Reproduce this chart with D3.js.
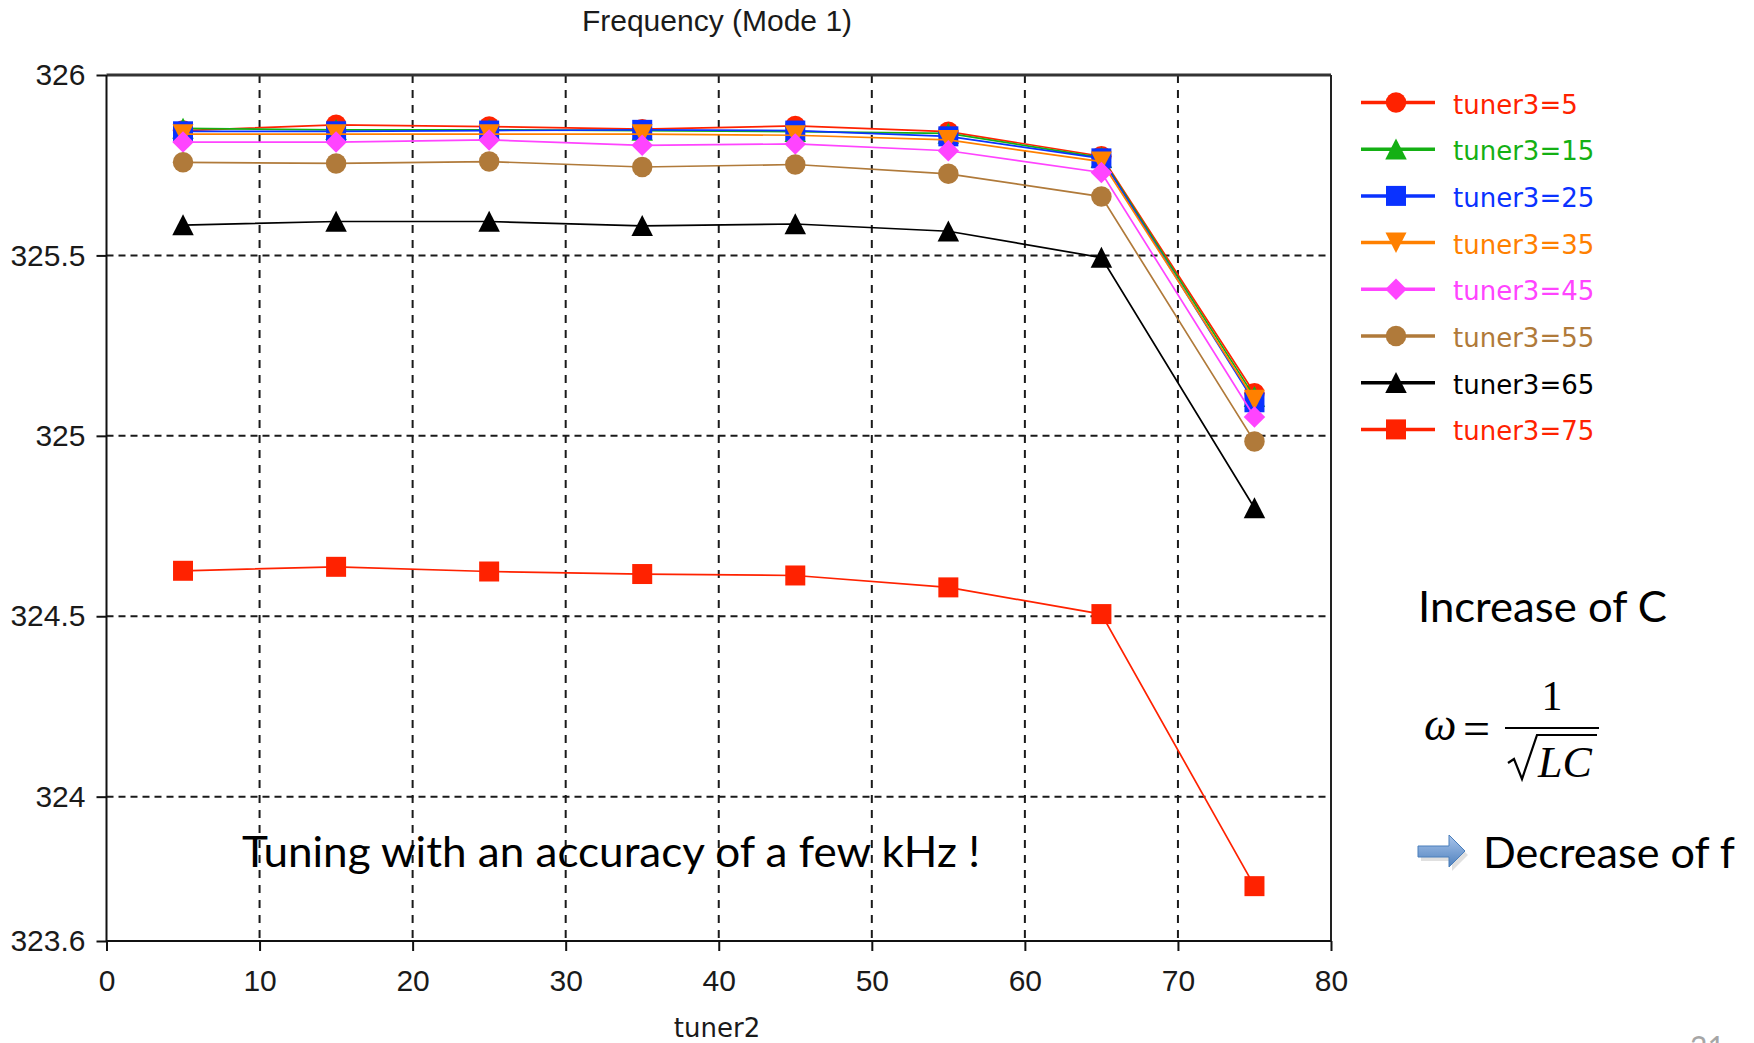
<!DOCTYPE html>
<html>
<head>
<meta charset="utf-8">
<script src="https://cdn.jsdelivr.net/npm/d3@7"></script>
<style>
  html, body { margin: 0; padding: 0; background: #fff; }
  svg { display: block; }
</style>
</head>
<body>
<svg id="chart" width="1754" height="1043"></svg>
<script>
// tuner2 positions (x axis)
const tuner2 = [5, 15, 25, 35, 45, 55, 65, 75];

// series: one per tuner3 setting, frequency in MHz
const seriesNames = ["tuner3=5", "tuner3=15", "tuner3=25", "tuner3=35",
                     "tuner3=45", "tuner3=55", "tuner3=65", "tuner3=75"];
const tuner3_5  = [325.846, 325.862, 325.857, 325.850, 325.859, 325.843, 325.775, 325.118];
const tuner3_15 = [325.852, 325.848, 325.848, 325.846, 325.843, 325.838, 325.771, 325.108];
const tuner3_25 = [325.844, 325.844, 325.846, 325.848, 325.846, 325.830, 325.769, 325.093];
const tuner3_35 = [325.836, 325.836, 325.836, 325.836, 325.833, 325.820, 325.760, 325.100];
const tuner3_45 = [325.814, 325.814, 325.820, 325.805, 325.809, 325.790, 325.730, 325.052];
const tuner3_55 = [325.758, 325.755, 325.760, 325.745, 325.752, 325.726, 325.663, 324.984];
const tuner3_65 = [325.584, 325.594, 325.594, 325.582, 325.587, 325.567, 325.494, 324.800];
const tuner3_75 = [324.626, 324.637, 324.624, 324.617, 324.613, 324.580, 324.506, 323.752];
const seriesValues = [tuner3_5, tuner3_15, tuner3_25, tuner3_35,
                      tuner3_45, tuner3_55, tuner3_65, tuner3_75];

const seriesColors = ["#ff2200", "#14b014", "#0a32ff", "#ff8000",
                      "#ff44ff", "#b07a3a", "#000000", "#ff2200"];
const seriesShapes = ["circle", "triUp", "square", "triDown",
                      "diamond", "circle", "triUp", "square"];

// axis ticks
const xTicks = [0, 10, 20, 30, 40, 50, 60, 70, 80];
const yTicks = [326, 325.5, 325, 324.5, 324, 323.6];
const yGrid = [325.5, 325, 324.5, 324];
const xGrid = [10, 20, 30, 40, 50, 60, 70];

const svg = d3.select("#chart");

const plotL = 106.5, plotR = 1331, plotT = 75, plotB = 941;
const x = d3.scaleLinear().domain([0, 80]).range([plotL, plotR]);
const y = d3.scaleLinear().domain([323.6, 326]).range([plotB, plotT]);

// marker shapes
const shapes = {
  circle: d3.symbolCircle,
  square: d3.symbolSquare,
  triUp: { draw(ctx, size) {
    const r = Math.sqrt(size) / 2;
    ctx.moveTo(0, -r * 1.05); ctx.lineTo(r * 1.05, r); ctx.lineTo(-r * 1.05, r); ctx.closePath();
  }},
  triDown: { draw(ctx, size) {
    const r = Math.sqrt(size) / 2;
    ctx.moveTo(0, r * 1.05); ctx.lineTo(r * 1.05, -r); ctx.lineTo(-r * 1.05, -r); ctx.closePath();
  }},
  diamond: { draw(ctx, size) {
    const r = Math.sqrt(size) / 2 * 1.05;
    ctx.moveTo(0, -r); ctx.lineTo(r, 0); ctx.lineTo(0, r); ctx.lineTo(-r, 0); ctx.closePath();
  }}
};
const shapeSize = { circle: 330, square: 400, triUp: 420, triDown: 400, diamond: 420 };
const sym = s => d3.symbol().type(shapes[s]).size(shapeSize[s]);

// grid
const grid = svg.append("g");
grid.selectAll("line.v").data(xGrid).join("line")
  .attr("x1", d => x(d)).attr("x2", d => x(d))
  .attr("y1", plotT).attr("y2", plotB)
  .attr("stroke", "#1a1a1a").attr("stroke-width", 2).attr("stroke-dasharray", "8,7");
grid.selectAll("line.h").data(yGrid).join("line")
  .attr("x1", plotL).attr("x2", plotR)
  .attr("y1", d => y(d)).attr("y2", d => y(d))
  .attr("stroke", "#1a1a1a").attr("stroke-width", 2).attr("stroke-dasharray", "7,5");

// frame
svg.append("line").attr("x1", plotL).attr("x2", plotR).attr("y1", plotT).attr("y2", plotT)
  .attr("stroke", "#333").attr("stroke-width", 3);
svg.append("line").attr("x1", plotR).attr("x2", plotR).attr("y1", plotT).attr("y2", plotB)
  .attr("stroke", "#222").attr("stroke-width", 2);

// axes
const yAxis = svg.append("g").attr("transform", `translate(${plotL},0)`)
  .call(d3.axisLeft(y).tickValues(yTicks).tickSize(10).tickPadding(11)
        .tickFormat(d => String(d)));
const xAxis = svg.append("g").attr("transform", `translate(0,${plotB})`)
  .call(d3.axisBottom(x).tickValues(xTicks).tickSize(10).tickPadding(19)
        .tickFormat(d3.format("d")));
[yAxis, xAxis].forEach(a => {
  a.select(".domain").attr("stroke", "#111").attr("stroke-width", 2);
  a.selectAll(".tick line").attr("stroke", "#111").attr("stroke-width", 2);
  a.selectAll(".tick text").attr("fill", "#1a1a1a")
    .style("font-family", "'Liberation Sans', Arial, sans-serif").style("font-size", "30px");
});
yAxis.select(".domain").attr("d", `M0,${plotT}V${plotB}`);
xAxis.select(".domain").attr("d", `M${plotL},0H${plotR}`);

// title and axis label
svg.append("text").attr("x", 717).attr("y", 31).attr("text-anchor", "middle")
  .style("font-family", "'Liberation Sans', Arial, sans-serif").style("font-size", "30px")
  .attr("fill", "#1a1a1a").text("Frequency (Mode 1)");
svg.append("text").attr("x", 717).attr("y", 1037).attr("text-anchor", "middle")
  .style("font-family", "'DejaVu Sans', sans-serif").style("font-size", "26px")
  .attr("fill", "#1a1a1a").text("tuner2");

// series
const line = d3.line().x((d, i) => x(tuner2[i])).y(d => y(d));
seriesValues.forEach((vals, k) => {
  const g = svg.append("g");
  g.append("path").attr("d", line(vals)).attr("fill", "none")
    .attr("stroke", seriesColors[k]).attr("stroke-width", 1.7);
  g.selectAll("path.m").data(vals).join("path")
    .attr("transform", (d, i) => `translate(${x(tuner2[i])},${y(d)})`)
    .attr("d", sym(seriesShapes[k])).attr("fill", seriesColors[k]);
});

// legend
const legend = svg.append("g");
seriesNames.forEach((name, k) => {
  const cy = 102.5 + k * 46.7;
  legend.append("line").attr("x1", 1361).attr("x2", 1435).attr("y1", cy).attr("y2", cy)
    .attr("stroke", seriesColors[k]).attr("stroke-width", 3.5);
  legend.append("path").attr("transform", `translate(1396,${cy})`)
    .attr("d", sym(seriesShapes[k])).attr("fill", seriesColors[k]);
  legend.append("text").attr("x", 1453).attr("y", cy + 11)
    .style("font-family", "'DejaVu Sans', sans-serif").style("font-size", "26px")
    .attr("fill", seriesColors[k]).text(name);
});

// annotations
const note = "'Lato', 'Open Sans', sans-serif";
svg.append("text").attr("x", 242).attr("y", 867)
  .attr("textLength", 738).attr("lengthAdjust", "spacingAndGlyphs")
  .style("font-family", note).style("font-size", "42px").attr("fill", "#000")
  .text("Tuning with an accuracy of a few kHz !");
svg.append("text").attr("x", 1418).attr("y", 622)
  .attr("textLength", 249).attr("lengthAdjust", "spacingAndGlyphs")
  .style("font-family", note).style("font-size", "42px").attr("fill", "#000")
  .text("Increase of C");
svg.append("text").attr("x", 1483).attr("y", 868)
  .attr("textLength", 252).attr("lengthAdjust", "spacingAndGlyphs")
  .style("font-family", note).style("font-size", "42px").attr("fill", "#000")
  .text("Decrease of f");

// resonance formula
const serif = "'Liberation Serif', 'Times New Roman', serif";
const fm = svg.append("g");
fm.append("text").attr("x", 1424).attr("y", 740).style("font-family", serif)
  .style("font-size", "46px").style("font-style", "italic").text("ω");
fm.append("text").attr("x", 1463).attr("y", 745).style("font-family", serif)
  .style("font-size", "48px").text("=");
fm.append("line").attr("x1", 1505).attr("x2", 1599).attr("y1", 728).attr("y2", 728)
  .attr("stroke", "#000").attr("stroke-width", 2.2);
fm.append("text").attr("x", 1552).attr("y", 710).attr("text-anchor", "middle")
  .style("font-family", serif).style("font-size", "42px").text("1");
fm.append("path").attr("d", "M1508,763 L1514,759 L1522,779 L1537,735 L1597,735")
  .attr("fill", "none").attr("stroke", "#000").attr("stroke-width", 2.2)
  .attr("stroke-linejoin", "miter");
fm.append("text").attr("x", 1538).attr("y", 777).style("font-family", serif)
  .style("font-size", "44px").style("font-style", "italic").text("LC");

// block arrow
const defs = svg.append("defs");
const grad = defs.append("linearGradient").attr("id", "arrowFill")
  .attr("x1", 0).attr("y1", 0).attr("x2", 0).attr("y2", 1);
grad.append("stop").attr("offset", "0%").attr("stop-color", "#a9c5ec");
grad.append("stop").attr("offset", "100%").attr("stop-color", "#4f81bd");
svg.append("path").attr("d", "M1420,848 H1451 V837 L1467,853 L1451,869 V859 H1420 Z")
  .attr("fill", "#000").attr("opacity", 0.12).attr("transform", "translate(1,2)");
svg.append("path").attr("d", "M1418,846 H1449 V835 L1465,851 L1449,867 V857 H1418 Z")
  .attr("fill", "url(#arrowFill)").attr("stroke", "#4a7ebb").attr("stroke-width", 1);

// page number, running off the bottom edge of the slide
svg.append("text").attr("x", 1690).attr("y", 1058)
  .style("font-family", note).style("font-size", "30px").attr("fill", "#a6a6a6").text("21");
</script>
</body>
</html>
